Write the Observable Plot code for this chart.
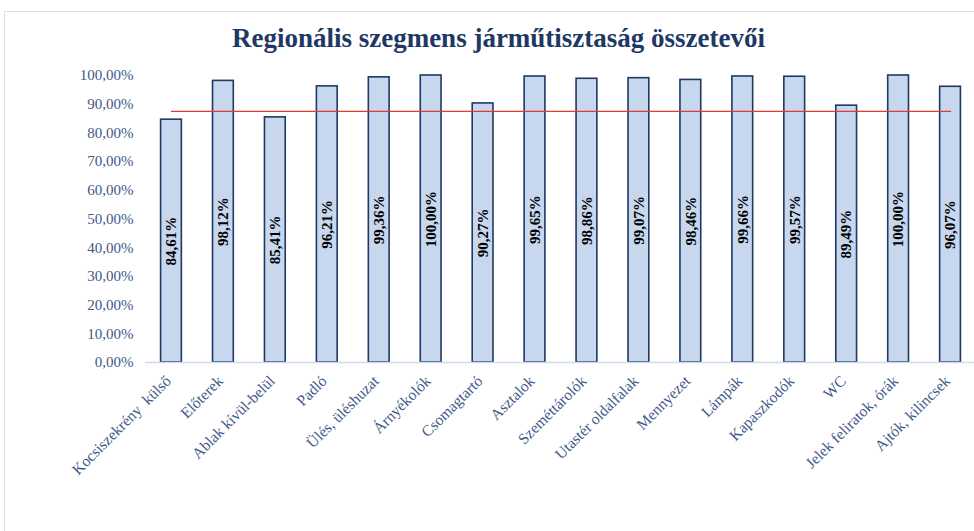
<!DOCTYPE html>
<html>
<head>
<meta charset="utf-8">
<script src="https://cdn.jsdelivr.net/npm/d3@7"></script>
<script src="https://cdn.jsdelivr.net/npm/@observablehq/plot@0.6"></script>
<style>
  html, body { margin: 0; padding: 0; background: #fff; overflow: hidden; }
  #wrap { position: relative; width: 974px; height: 531px; overflow: hidden; }
  #frame { position: absolute; left: 4px; top: 11px; width: 1100px; height: 700px;
           border: 1.5px solid #D6E2F3; box-sizing: border-box; }
  #title { position: absolute; left: 0; top: 23px; width: 997px; text-align: center;
           font-family: "Liberation Serif", "Times New Roman", serif; font-weight: bold;
           font-size: 27px; color: #203864; white-space: nowrap; }
  #chart { position: absolute; left: 0; top: 0; }
</style>
</head>
<body>
<div id="wrap">
  <div id="frame"></div>
  <div id="chart"></div>
  <div id="title">Regionális szegmens járműtisztaság összetevői</div>
</div>
<script>
const categories = [
  "Kocsiszekrény  külső", "Előterek", "Ablak kívül-belül", "Padló", "Ülés, üléshuzat",
  "Árnyékolók", "Csomagtartó", "Asztalok", "Szeméttárolók", "Utastér oldalfalak",
  "Mennyezet", "Lámpák", "Kapaszkodók", "WC", "Jelek feliratok, órák", "Ajtók, kilincsek"
];
const values = [84.61, 98.12, 85.41, 96.21, 99.36, 100.00, 90.27, 99.65, 98.86, 99.07, 98.46, 99.66, 99.57, 89.49, 100.00, 96.07];
const target = 87.5;
const yTicks = [0, 10, 20, 30, 40, 50, 60, 70, 80, 90, 100];

const data = categories.map((c, i) => ({cat: c, value: values[i] / 100, target: target / 100}));
const fmt = v => d3.format(".2f")(v).replace(".", ",") + "%";
const serif = "Liberation Serif, Times New Roman, serif";
const axisColor = "#3E5889";

const chart = Plot.plot({
  width: 974,
  height: 531,
  marginTop: 75,
  marginBottom: 169,
  marginLeft: 145,
  marginRight: 0,
  style: {fontFamily: serif, background: "transparent", overflow: "visible"},
  x: {domain: categories, range: [145, 976], paddingInner: 0.6, paddingOuter: 0.3, round: false},
  y: {domain: [0, 1]},
  marks: [
    Plot.gridY(yTicks.map(t => t / 100), {stroke: "#D6E2F3", strokeOpacity: 1, strokeWidth: 1.3, x1: 145, x2: 974}),
    Plot.axisY(yTicks.map(t => t / 100), {
      tickSize: 0, tickPadding: 12, tickFormat: d => fmt(d * 100),
      fontSize: 15, fill: axisColor, label: null
    }),
    Plot.barY(data, {x: "cat", y: "value", fill: "#C6D7EE", stroke: "#1F3864", strokeWidth: 1.6}),
    Plot.ruleY([0], {stroke: "#CFDCF0", strokeWidth: 1.5}),
    Plot.lineY(data, {x: "cat", y: "target", stroke: "#E53935", strokeWidth: 1.3}),
    Plot.text(data, {
      x: "cat", y: d => d.value / 2, text: d => fmt(d.value * 100),
      rotate: -90, fontSize: 15, fontWeight: "bold", fill: "#000"
    }),
    Plot.axisX({
      tickSize: 0, tickPadding: 16, dx: -3, tickRotate: -45, fontSize: 15.5, fill: axisColor, label: null
    })
  ]
});
document.getElementById("chart").appendChild(chart);
</script>
</body>
</html>
